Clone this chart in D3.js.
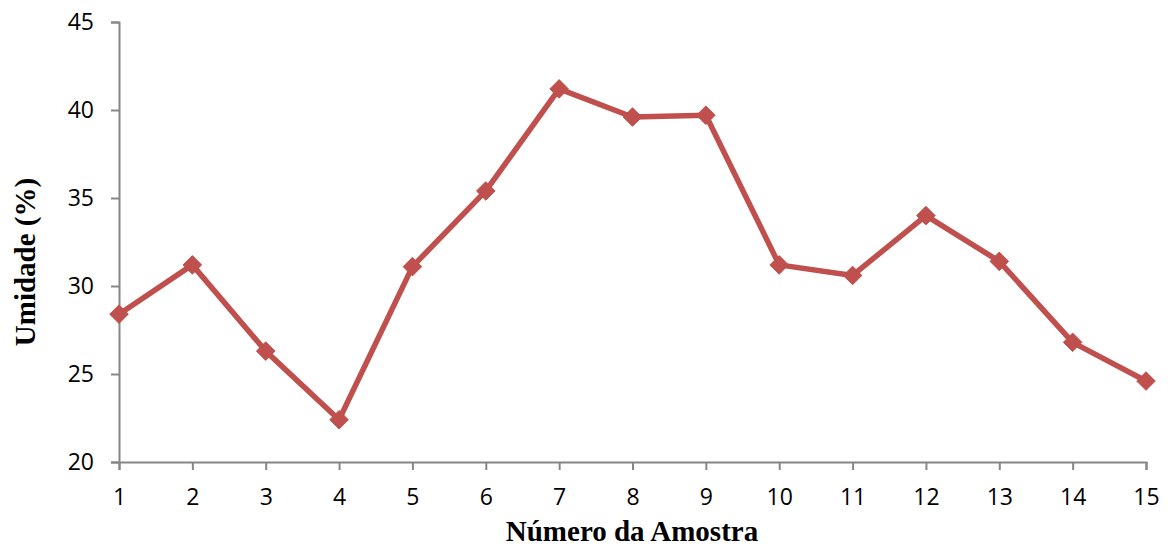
<!DOCTYPE html>
<html>
<head>
<meta charset="utf-8">
<script src="https://cdn.jsdelivr.net/npm/d3@7"></script>
<style>
  html, body { margin: 0; padding: 0; background: #fff; }
  svg { display: block; }
</style>
</head>
<body>
<div id="chart"></div>
<script>
// Moisture content per sample
const samples = [1, 2, 3, 4, 5, 6, 7, 8, 9, 10, 11, 12, 13, 14, 15];
const moisture = [28.4, 31.2, 26.3, 22.4, 31.1, 35.4, 41.2, 39.6, 39.7, 31.2, 30.6, 34.0, 31.4, 26.8, 24.6];
const yTicks = [20, 25, 30, 35, 40, 45];
const xTitle = "Número da Amostra";
const yTitle = "Umidade (%)";

const width = 1168, height = 550;
const margin = { top: 22, right: 22, bottom: 88, left: 119 };

const svg = d3.select("#chart").append("svg")
  .attr("width", width).attr("height", height);

const x = d3.scaleLinear()
  .domain([1, 15])
  .range([margin.left, width - margin.right]);

const y = d3.scaleLinear()
  .domain([20, 45])
  .range([height - margin.bottom, margin.top]);

const axisColor = "#868686";
const tickFont = "'Open Sans', 'Noto Sans', sans-serif";

// y axis
const yAxis = svg.append("g")
  .attr("transform", `translate(${margin.left},0)`)
  .call(d3.axisLeft(y).tickValues(yTicks).tickSize(8).tickSizeOuter(8).tickPadding(17));
// x axis
const xAxis = svg.append("g")
  .attr("transform", `translate(0,${height - margin.bottom})`)
  .call(d3.axisBottom(x).tickValues(samples).tickFormat(d3.format("d")).tickSize(8).tickSizeOuter(8).tickPadding(19));

[yAxis, xAxis].forEach(g => {
  g.select(".domain").attr("stroke", axisColor).attr("stroke-width", 2);
  g.selectAll(".tick line").attr("stroke", axisColor).attr("stroke-width", 2);
  g.selectAll(".tick text")
    .attr("fill", "#000")
    .style("font-family", tickFont)
    .style("font-size", "23px");
});

// data line
const line = d3.line()
  .x((d, i) => x(samples[i]))
  .y(d => y(d));

const red = "#C0504D";

svg.append("path")
  .datum(moisture)
  .attr("fill", "none")
  .attr("stroke", red)
  .attr("stroke-width", 5.5)
  .attr("stroke-linejoin", "round")
  .attr("d", line);

// diamond markers
const diamond = d3.symbol().type(d3.symbolDiamond2).size(220);
svg.append("g")
  .selectAll("path")
  .data(moisture)
  .join("path")
  .attr("d", diamond)
  .attr("transform", (d, i) => `translate(${x(samples[i])},${y(d)})`)
  .attr("fill", red)
  .attr("stroke", red)
  .attr("stroke-width", 1);

// axis titles
const titleFont = "'Liberation Serif', 'Times New Roman', serif";
svg.append("text")
  .attr("x", 632)
  .attr("y", 541)
  .attr("text-anchor", "middle")
  .style("font-family", titleFont)
  .style("font-weight", "bold")
  .style("font-size", "29px")
  .text(xTitle);

svg.append("text")
  .attr("transform", "translate(35,262) rotate(-90)")
  .attr("text-anchor", "middle")
  .style("font-family", titleFont)
  .style("font-weight", "bold")
  .style("font-size", "29px")
  .text(yTitle);
</script>
</body>
</html>
